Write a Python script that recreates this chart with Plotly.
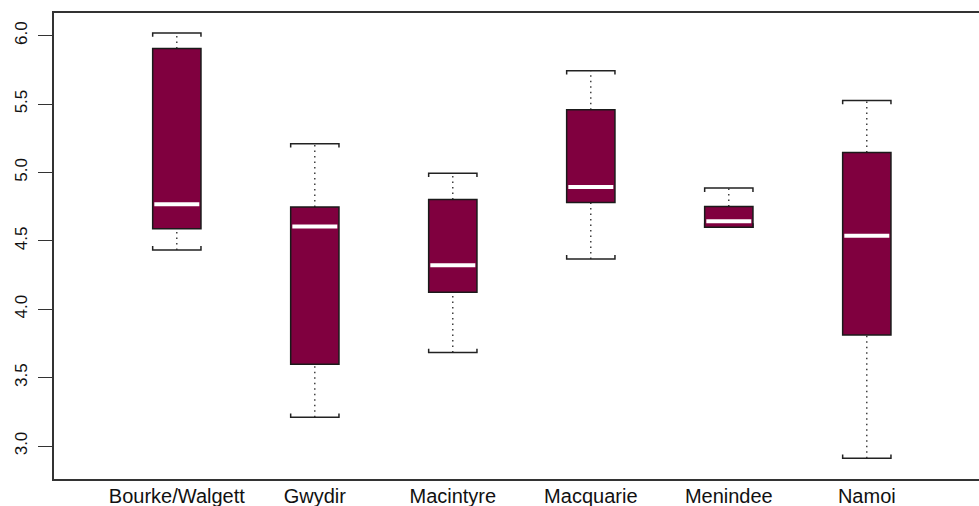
import plotly.graph_objects as go

# Five-number summaries per region
regions = ["Bourke/Walgett", "Gwydir", "Macintyre", "Macquarie", "Menindee", "Namoi"]
lower_whisker = [4.434, 3.21, 3.683, 4.368, 4.600, 2.91]
q1 = [4.588, 3.598, 4.125, 4.780, 4.600, 3.812]
median = [4.768, 4.605, 4.321, 4.893, 4.644, 4.537]
q3 = [5.907, 4.747, 4.802, 5.459, 4.751, 5.146]
upper_whisker = [6.02, 5.21, 4.995, 5.744, 4.886, 5.527]

y_ticks = [3.0, 3.5, 4.0, 4.5, 5.0, 5.5, 6.0]

BOX_FILL = "#80003F"
HALF = 0.175          # half box width in category units
HOOK = 0.028          # small end ticks on the staples

fig = go.Figure()
shapes = []
for i, name in enumerate(regions):
    x = i + 1
    # dotted whiskers
    for a, b in ((q3[i], upper_whisker[i]), (lower_whisker[i], q1[i])):
        if b > a:
            fig.add_trace(go.Scatter(
                x=[x, x], y=[a, b], mode="lines",
                line=dict(color="#111111", width=1.2, dash="1.5px,4px"),
                hoverinfo="skip", showlegend=False))
    # staples with small end hooks
    fig.add_trace(go.Scatter(
        x=[x - HALF, x - HALF, x + HALF, x + HALF],
        y=[upper_whisker[i] - HOOK, upper_whisker[i], upper_whisker[i], upper_whisker[i] - HOOK],
        mode="lines", line=dict(color="#222222", width=1.5),
        hoverinfo="skip", showlegend=False))
    fig.add_trace(go.Scatter(
        x=[x - HALF, x - HALF, x + HALF, x + HALF],
        y=[lower_whisker[i] + HOOK, lower_whisker[i], lower_whisker[i], lower_whisker[i] + HOOK],
        mode="lines", line=dict(color="#222222", width=1.5),
        hoverinfo="skip", showlegend=False))
    # box body
    shapes.append(dict(type="rect", xref="x", yref="y",
                       x0=x - HALF, x1=x + HALF, y0=q1[i], y1=q3[i],
                       fillcolor=BOX_FILL, line=dict(color="#1a1a1a", width=1.5),
                       layer="above"))
    # white median bar
    shapes.append(dict(type="line", xref="x", yref="y",
                       x0=x - HALF + 0.012, x1=x + HALF - 0.012,
                       y0=median[i], y1=median[i],
                       line=dict(color="white", width=4), layer="above"))

fig.update_layout(
    width=979, height=506,
    margin=dict(l=54, r=0, t=13, b=27),
    paper_bgcolor="white", plot_bgcolor="white",
    shapes=shapes,
    font=dict(family="Liberation Sans, Arial, sans-serif", color="#111111"),
)
fig.update_xaxes(
    range=[0.110, 6.813], tickvals=list(range(1, len(regions) + 1)), ticktext=regions,
    ticks="", showgrid=False, zeroline=False, automargin=False,
    showline=True, mirror=True, linecolor="#333333", linewidth=1.5,
    tickfont=dict(size=20), ticklabelstandoff=-2,
)
fig.update_yaxes(
    range=[2.759, 6.166], tickvals=y_ticks, ticktext=[f"{v:.1f}" for v in y_ticks],
    ticks="outside", ticklen=14, tickwidth=1, tickcolor="#333333",
    tickangle=-90, tickfont=dict(size=17), ticklabelstandoff=4,
    showgrid=False, zeroline=False, automargin=False,
    showline=True, mirror=False, linecolor="#333333", linewidth=1.5,
)

fig.write_html("out.html")
